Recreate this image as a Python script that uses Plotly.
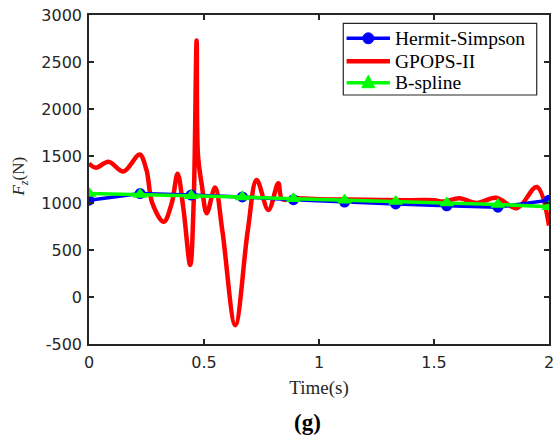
import plotly.graph_objects as go

# Hermit-Simpson nodes
hs_t = [0.0, 0.2222, 0.4444, 0.6667, 0.8889, 1.1111, 1.3333, 1.5556, 1.7778, 2.0]
hs_f = [1030, 1100, 1085, 1065, 1035, 1010, 990, 970, 955, 1030]

# B-spline nodes
bs_t = [0.0, 0.2222, 0.4444, 0.6667, 0.8889, 1.1111, 1.3333, 1.5556, 1.7778, 2.0]
bs_f = [1100, 1090, 1078, 1063, 1045, 1030, 1015, 1000, 985, 960]

# GPOPS-II
gp_t = [0.0, 0.03, 0.085, 0.15, 0.22, 0.25, 0.275, 0.325, 0.36, 0.385, 0.41, 0.44,
        0.455, 0.468, 0.474, 0.49, 0.512, 0.548, 0.58, 0.636, 0.69, 0.729, 0.78,
        0.823, 0.84, 0.9, 1.0, 1.2, 1.4, 1.5, 1.54, 1.61, 1.686, 1.77, 1.86, 1.947, 2.0]
gp_f = [1420, 1375, 1440, 1335, 1515, 1350, 1000, 800, 1000, 1310, 950, 340,
        1000, 2730, 1500, 1200, 890, 1165, 700, -300, 700, 1245, 925,
        1210, 1040, 1050, 1040, 1035, 1030, 1030, 1015, 1050, 1000, 1055, 945, 1170, 760]

x_ticks = [0, 0.5, 1, 1.5, 2]
x_tick_text = ["0", "0.5", "1", "1.5", "2"]
y_ticks = [-500, 0, 500, 1000, 1500, 2000, 2500, 3000]
y_tick_text = ["-500", "0", "500", "1000", "1500", "2000", "2500", "3000"]

legend_names = ["Hermit-Simpson", "GPOPS-II", "B-spline"]
BLUE, RED, GREEN = "#0000ff", "#ff0000", "#00ff00"
INK = "#262626"

fig = go.Figure()
fig.add_trace(go.Scatter(x=gp_t, y=gp_f, mode="lines", name=legend_names[1],
                         line=dict(color=RED, width=4.5, shape="spline", smoothing=1.0)))
fig.add_trace(go.Scatter(x=hs_t, y=hs_f, mode="lines+markers", name=legend_names[0],
                         line=dict(color=BLUE, width=3.5),
                         marker=dict(symbol="circle", size=11, color=BLUE)))
fig.add_trace(go.Scatter(x=bs_t, y=bs_f, mode="lines+markers", name=legend_names[2],
                         line=dict(color=GREEN, width=3.5),
                         marker=dict(symbol="triangle-up", size=13, color=GREEN)))

axis_common = dict(showline=True, linecolor=INK, linewidth=1.5, mirror="ticks",
                   ticks="inside", ticklen=5, tickwidth=1.5, tickcolor=INK,
                   showgrid=False, zeroline=False, automargin=False,
                   ticklabeloverflow="allow",
                   tickfont=dict(family="DejaVu Sans", size=16, color=INK))

fig.update_xaxes(range=[0, 2], tickvals=x_ticks, ticktext=x_tick_text, ticklabelstandoff=3,
                 title=dict(text="Time(s)", font=dict(family="Liberation Serif", size=19, color=INK),
                            standoff=10),
                 **axis_common)
fig.update_yaxes(range=[-500, 3000], tickvals=y_ticks, ticktext=y_tick_text, ticklabelstandoff=2,
                 **axis_common)

fig.add_annotation(text="<i>F</i><sub><i>z</i></sub>(N)", textangle=-90,
                   xref="paper", yref="paper", x=-0.150, y=0.509, showarrow=False,
                   xanchor="center", yanchor="middle",
                   font=dict(family="Liberation Serif", size=17, color=INK))
fig.add_annotation(text="<b>(g)</b>", xref="paper", yref="paper", x=0.475, y=-0.240,
                   showarrow=False, xanchor="center", yanchor="middle",
                   font=dict(family="Liberation Serif", size=23, color="#000000"))

# Hand-drawn legend box (paper coordinates of the plot area)
lg_x0, lg_x1, lg_y0, lg_y1 = 0.5528, 0.9733, 0.7568, 0.9748
row_y = [0.9292, 0.8593, 0.7942]
samp_x0, samp_x1, mark_x, text_x = 0.5600, 0.6543, 0.6072, 0.6602
fig.add_shape(type="rect", xref="paper", yref="paper", x0=lg_x0, x1=lg_x1, y0=lg_y0, y1=lg_y1,
              line=dict(color=INK, width=1.2), fillcolor="white", layer="above")
colors = [BLUE, RED, GREEN]
widths = [3.5, 4.5, 3.5]
for name, yy, col, w in zip(legend_names, row_y, colors, widths):
    fig.add_shape(type="line", xref="paper", yref="paper", x0=samp_x0, x1=samp_x1, y0=yy, y1=yy,
                  line=dict(color=col, width=w), layer="above")
    fig.add_annotation(text=name, xref="paper", yref="paper", x=text_x, y=yy, showarrow=False,
                       xanchor="left", yanchor="middle",
                       font=dict(family="Liberation Serif", size=19.5, color="#000000"))
# legend glyphs: circle and triangle
rx, ry = 5.5 / 460, 5.5 / 329
fig.add_shape(type="circle", xref="paper", yref="paper",
              x0=mark_x - rx, x1=mark_x + rx, y0=row_y[0] - ry, y1=row_y[0] + ry,
              line=dict(color=BLUE, width=1), fillcolor=BLUE, layer="above")
tw, tt, tb = 6.5 / 460, 7.5 / 329, 5.0 / 329
ty = row_y[2]
fig.add_shape(type="path", xref="paper", yref="paper",
              path=f"M {mark_x - tw} {ty - tb} L {mark_x + tw} {ty - tb} L {mark_x} {ty + tt} Z",
              line=dict(color=GREEN, width=1), fillcolor=GREEN, layer="above")

fig.update_layout(
    width=555, height=435,
    margin=dict(l=89, r=6, t=15, b=91),
    paper_bgcolor="white", plot_bgcolor="white",
    showlegend=False,
)

# remove the browser's default page margin so the figure sits at the window origin
fig.write_html("out.html", config={"displayModeBar": False},
               post_script="document.body.style.margin='0';document.body.style.overflow='hidden';")
